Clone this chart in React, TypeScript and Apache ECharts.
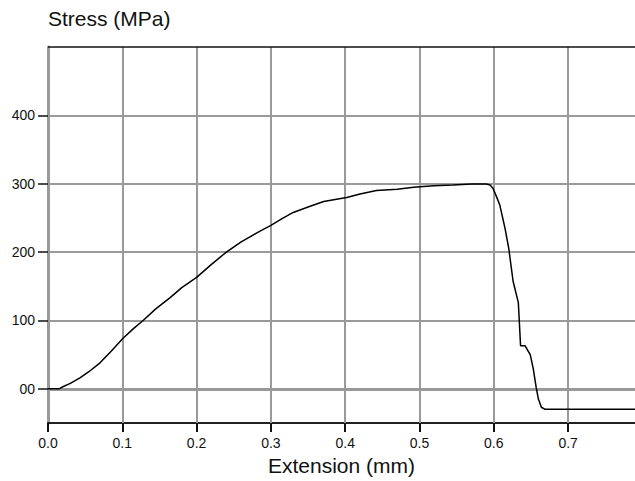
import React, { useEffect, useRef } from "react";
import * as echarts from "echarts";

const xTicks = [0, 0.1, 0.2, 0.3, 0.4, 0.5, 0.6, 0.7];
const yTicks = [0, 100, 200, 300, 400];
const gridX = [0.1, 0.2, 0.3, 0.4, 0.5, 0.6, 0.7];
const gridY = [100, 200, 300, 400];

const extension = [
  0, 0.015, 0.02, 0.03, 0.043, 0.055, 0.07, 0.085, 0.101, 0.115, 0.128, 0.145, 0.164, 0.18, 0.2,
  0.22, 0.24, 0.26, 0.281, 0.3, 0.315, 0.33, 0.35, 0.371, 0.402, 0.42, 0.442, 0.47, 0.492, 0.519,
  0.545, 0.57, 0.59, 0.595, 0.599, 0.604, 0.608, 0.615, 0.62, 0.626, 0.633, 0.636, 0.642, 0.649,
  0.653, 0.657, 0.66, 0.664, 0.669, 0.79,
];
const stress = [
  0, 0, 3, 8, 16, 25, 38, 55, 74, 88, 100, 117, 133, 148, 163,
  182, 200, 215, 228, 239, 249, 258, 266, 274, 280, 285, 290, 292, 295, 297,
  298, 299.5, 299.5, 298, 293, 280, 269, 235, 206, 157, 126, 63, 63, 50,
  30, 2, -15, -27, -30, -30,
];

export default function App() {
  const ref = useRef<HTMLDivElement>(null);
  useEffect(() => {
    if (!ref.current) return;
    const chart = echarts.init(ref.current, null, { renderer: "svg" });
    const font = "'Liberation Sans', Arial, sans-serif";
    const gridLine = { color: "#9a9a9a", width: 2, type: "solid" as const };
    chart.setOption({
      animation: false,
      backgroundColor: "#ffffff",
      grid: { left: 48, top: 47, right: 0, bottom: 56 },
      xAxis: {
        type: "value",
        min: 0,
        max: 0.79,
        name: "Extension (mm)",
        nameLocation: "middle",
        nameGap: 32,
        nameTextStyle: { fontFamily: font, fontSize: 21, color: "#111" },
        axisLine: { show: true, onZero: false, lineStyle: { color: "#222", width: 2 } },
        axisTick: { show: true, length: 9, customValues: xTicks, lineStyle: { color: "#111", width: 2 } },
        axisLabel: {
          customValues: xTicks,
          margin: 13,
          fontFamily: font,
          fontSize: 14,
          color: "#111",
          formatter: (v: number) => v.toFixed(1),
        },
        splitLine: { show: false },
      },
      yAxis: {
        type: "value",
        min: -50,
        max: 500,
        name: "Stress (MPa)",
        nameLocation: "end",
        nameGap: 18,
        nameTextStyle: { fontFamily: font, fontSize: 21, color: "#111", align: "left" },
        axisLine: { show: true, onZero: false, lineStyle: { color: "#999", width: 3 } },
        axisTick: { show: true, length: 10, customValues: yTicks, lineStyle: { color: "#111", width: 1.5 } },
        axisLabel: {
          customValues: yTicks,
          margin: 13,
          fontFamily: font,
          fontSize: 14,
          color: "#111",
          formatter: (v: number) => (v === 0 ? "00" : String(v)),
        },
        splitLine: { show: false },
      },
      series: [
        {
          type: "line",
          z: 1,
          silent: true,
          data: [[0, 0]],
          showSymbol: false,
          lineStyle: { opacity: 0 },
          markLine: {
            silent: true,
            symbol: "none",
            label: { show: false },
            animation: false,
            data: [
              ...gridX.map((x) => ({ xAxis: x, lineStyle: gridLine })),
              ...gridY.map((y) => ({ yAxis: y, lineStyle: gridLine })),
              { yAxis: 0, lineStyle: { color: "#999", width: 3, type: "solid" } },
              { yAxis: 500, lineStyle: { color: "#111", width: 1.5, type: "solid" } },
            ],
          },
        },
        {
          type: "line",
          z: 5,
          data: extension.map((x, i) => [x, stress[i]]),
          showSymbol: false,
          lineStyle: { color: "#000", width: 1.5 },
        },
      ],
    });
    return () => chart.dispose();
  }, []);
  return (
    <div
      ref={ref}
      style={{ position: "fixed", left: 0, top: 0, width: 635, height: 481, background: "#fff" }}
    />
  );
}
